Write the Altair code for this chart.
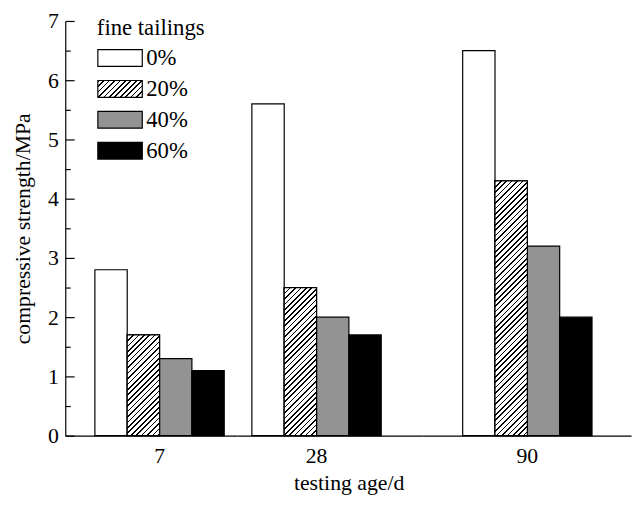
import altair as alt
import pandas as pd

# ---- data ----
ages = ["7", "28", "90"]
series = ["0%", "20%", "40%", "60%"]
strength_0 = [2.8, 5.6, 6.5]
strength_20 = [1.7, 2.5, 4.3]
strength_40 = [1.3, 2.0, 3.2]
strength_60 = [1.1, 1.7, 2.0]
y_major = [0, 1, 2, 3, 4, 5, 6, 7]
y_minor = [0.5, 1.5, 2.5, 3.5, 4.5, 5.5, 6.5]

values = {"0%": strength_0, "20%": strength_20, "40%": strength_40, "60%": strength_60}
df = pd.DataFrame(
    [{"age": a, "series": s, "strength": values[s][i]} for s in series for i, a in enumerate(ages)]
)

# ---- style constants ----
FONT = "Liberation Serif"
GRAY = "#939393"
PLOT_H = 420
Y_MAX = 7
GROUP_W = 131.0
BAR_W = GROUP_W / len(series)
PX = PLOT_H / Y_MAX
L = 320.0
PERIOD = 5.5
LINE = 1.7


def stops_expr():
    parts = []
    k = 0
    while k * PERIOD < L:
        a = k * PERIOD / L
        b = min((k * PERIOD + LINE) / L, 1)
        c = min((k + 1) * PERIOD / L, 1)
        parts.append(f"{{offset:{a:.5f},color:'#000'}}")
        parts.append(f"{{offset:{b:.5f},color:'#000'}}")
        parts.append(f"{{offset:{b:.5f},color:'#fff'}}")
        parts.append(f"{{offset:{c:.5f},color:'#fff'}}")
        k += 1
    return "[" + ",".join(parts) + "]"


STOPS = stops_expr()


def grad(wexpr, hexpr):
    den = f"(({wexpr})*({wexpr})+({hexpr})*({hexpr}))"
    return (
        f"{{gradient:'linear',x1:0,y1:0,x2:({wexpr})*{L}/{den},"
        f"y2:({hexpr})*{L}/{den},stops:{STOPS}}}"
    )


BAR_HATCH = grad(f"{BAR_W}", f"datum.strength*{PX}")
LEG_HATCH = grad("45", "17")
SYMBOL_PATH = "M-1,-0.548H1.903V0.548H-1Z"

# panel layout: (width, paddingOuter, align)
panels = [(174, 0.16412, 0.6977), (188, 0.21756, 0.2632), (211, 0.30534, 0.50625)]
TOTAL_W = sum(p[0] for p in panels)


def panel(i):
    width, po, al = panels[i]
    base = alt.Chart(df).transform_filter(alt.datum.age == ages[i])
    x = alt.X(
        "age:N",
        scale=alt.Scale(domain=[ages[i]], paddingInner=0, paddingOuter=po, align=al),
        title="testing age/d" if i == 1 else None,
        axis=alt.Axis(
            labelAngle=0, ticks=False, domainColor="black", domainWidth=1.2,
            labelFontSize=22, labelPadding=10, labelColor="black", labelFont=FONT,
            titleX=113, titleY=55, titleBaseline="alphabetic", titleFontSize=22,
            titleFont=FONT, titleFontWeight="normal", titleColor="black",
        ),
    )
    xo = alt.XOffset("series:N", scale=alt.Scale(domain=series, paddingInner=0, paddingOuter=0))
    if i == 0:
        yaxis = alt.Axis(
            values=sorted(y_major + y_minor),
            labelExpr="datum.value % 1 === 0 ? ''+datum.value : ''",
            tickSize=alt.ExprRef("datum.value % 1 === 0 ? -9 : -5"),
            tickColor="black", tickWidth=1.2, domainColor="black", domainWidth=1.2,
            labelPadding=16, labelFontSize=22, labelColor="black", labelFont=FONT,
            grid=False, title="compressive strength/MPa", titleFontSize=22,
            titleFont=FONT, titleFontWeight="normal", titleColor="black", titlePadding=13,
        )
    else:
        yaxis = None
    y = alt.Y("strength:Q", scale=alt.Scale(domain=[0, Y_MAX], nice=False), axis=yaxis)
    legend = None
    if i == 0:
        legend = alt.Legend(
            title="fine tailings", orient="none", legendX=32, legendY=-4,
            symbolType=SYMBOL_PATH, symbolSize=961, symbolStrokeColor="black",
            symbolStrokeWidth=1.2, symbolOpacity=1, labelOffset=17, rowPadding=2.3,
            titlePadding=2, titleFontSize=23, titleFontWeight="normal", titleFont=FONT,
            labelFont=FONT, labelFontSize=23, titleColor="black", labelColor="black",
        )
    fill = alt.Fill(
        "series:N",
        scale=alt.Scale(domain=series, range=["#ffffff", alt.ExprRef(LEG_HATCH), GRAY, "#000000"]),
        legend=legend,
    )
    bars = base.mark_bar(stroke="black", strokeWidth=1.2).encode(x=x, xOffset=xo, y=y, fill=fill)
    hatch = (
        base.transform_filter(alt.datum.series == "20%")
        .mark_bar(stroke="black", strokeWidth=1.2, fill=alt.ExprRef(BAR_HATCH))
        .encode(x=x, xOffset=xo, y=y)
    )
    return alt.layer(bars, hatch).properties(width=width, height=PLOT_H)


chart = (
    alt.hconcat(panel(0), panel(1), panel(2), spacing=0, bounds="flush")
    .resolve_scale(x="independent", y="independent", xOffset="independent", fill="independent")
    .resolve_axis(x="independent", y="independent")
    .properties(
        autosize=alt.AutoSizeParams(type="none"),
        padding={"left": 58, "top": 10, "right": TOTAL_W + 1, "bottom": 59},
    )
    .configure_view(stroke=None)
)

chart.save("out.html", embed_options={"renderer": "svg", "actions": False})
